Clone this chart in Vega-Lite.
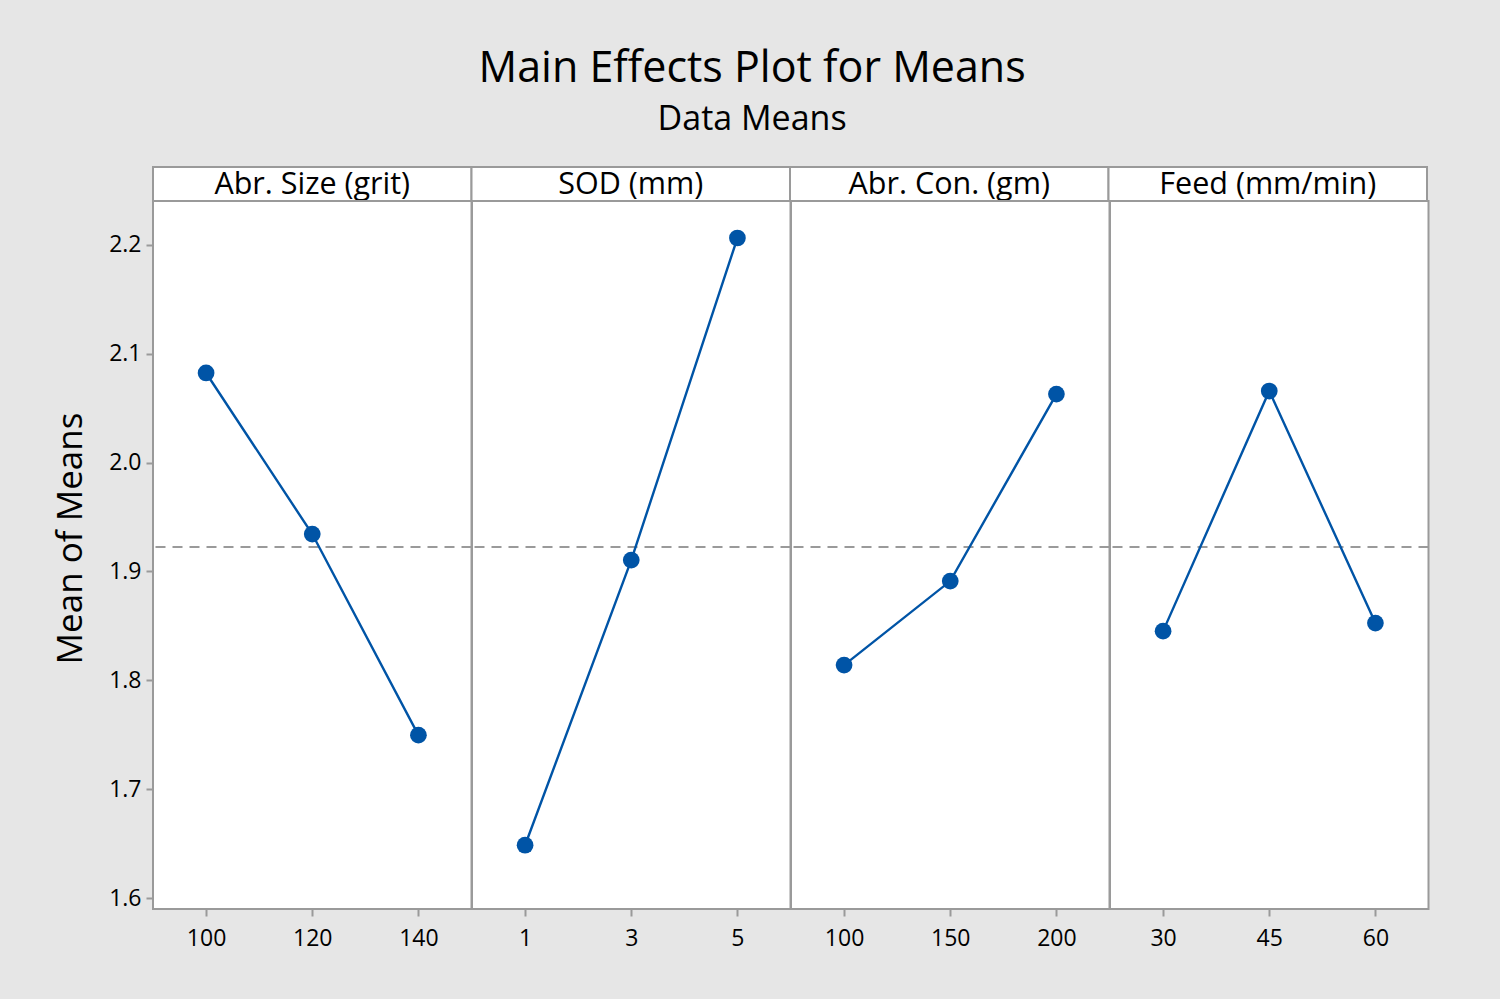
{
  "$schema": "https://vega.github.io/schema/vega-lite/v6.json",
  "background": "#e6e6e6",
  "padding": {"left": 53, "top": 48, "right": 71, "bottom": 50},
  "title": {
    "text": "Main Effects Plot for Means",
    "subtitle": "Data Means",
    "fontSize": 43,
    "fontWeight": "normal",
    "subtitleFontSize": 34,
    "subtitleColor": "black",
    "subtitlePadding": 12,
    "color": "black",
    "anchor": "middle",
    "dx": 10,
    "offset": 28
  },
  "vconcat": [
    {
      "data": {"values": [
        {"factor": "Abr. Size (grit)"},
        {"factor": "SOD (mm)"},
        {"factor": "Abr. Con. (gm)"},
        {"factor": "Feed (mm/min)"}
      ]},
      "width": 1274,
      "height": 34,
      "encoding": {
        "x": {"field": "factor", "type": "nominal", "sort": ["Abr. Size (grit)", "SOD (mm)", "Abr. Con. (gm)", "Feed (mm/min)"],
              "scale": {"paddingInner": 0, "paddingOuter": 0}, "axis": null}
      },
      "layer": [
        {"mark": {"type": "bar", "fill": "white", "stroke": "#9a9a9a", "strokeWidth": 2}},
        {"mark": {"type": "text", "fontSize": 30.5, "color": "black", "dy": 1}, "encoding": {"text": {"field": "factor", "type": "nominal"}}}
      ]
    },
    {
      "data": {"values": [
        {"factor": "Abr. Size (grit)", "level": 100, "mean": 2.0824, "grand_mean": 1.9224},
        {"factor": "Abr. Size (grit)", "level": 120, "mean": 1.9344, "grand_mean": 1.9224},
        {"factor": "Abr. Size (grit)", "level": 140, "mean": 1.7496, "grand_mean": 1.9224},
        {"factor": "SOD (mm)", "level": 1, "mean": 1.6485, "grand_mean": 1.9224},
        {"factor": "SOD (mm)", "level": 3, "mean": 1.9105, "grand_mean": 1.9224},
        {"factor": "SOD (mm)", "level": 5, "mean": 2.2064, "grand_mean": 1.9224},
        {"factor": "Abr. Con. (gm)", "level": 100, "mean": 1.814, "grand_mean": 1.9224},
        {"factor": "Abr. Con. (gm)", "level": 150, "mean": 1.8912, "grand_mean": 1.9224},
        {"factor": "Abr. Con. (gm)", "level": 200, "mean": 2.063, "grand_mean": 1.9224},
        {"factor": "Feed (mm/min)", "level": 30, "mean": 1.8452, "grand_mean": 1.9224},
        {"factor": "Feed (mm/min)", "level": 45, "mean": 2.0658, "grand_mean": 1.9224},
        {"factor": "Feed (mm/min)", "level": 60, "mean": 1.8526, "grand_mean": 1.9224}
      ]},
      "facet": {"column": {"field": "factor", "type": "nominal", "sort": ["Abr. Size (grit)", "SOD (mm)", "Abr. Con. (gm)", "Feed (mm/min)"], "header": null}},
      "spacing": 0,
      "bounds": "flush",
      "resolve": {"scale": {"x": "independent"}},
      "spec": {
        "width": 318.5,
        "height": 708,
        "layer": [
          {
            "mark": {"type": "rule", "color": "#9a9a9a", "strokeWidth": 2, "strokeDash": [10, 7]},
            "encoding": {
              "y": {"aggregate": "mean", "field": "grand_mean", "type": "quantitative", "title": "Mean of Means"}
            }
          },
          {
            "mark": {"type": "line", "color": "#0054a6", "strokeWidth": 2.4, "point": {"filled": true, "size": 280, "color": "#0054a6", "opacity": 1}},
            "encoding": {
              "x": {"field": "level", "type": "ordinal", "title": null,
                    "axis": {"labelAngle": 0, "domain": false, "tickColor": "#9a9a9a", "tickSize": 7, "tickWidth": 2, "labelPadding": 11, "labelFontSize": 23, "labelColor": "black"}},
              "y": {"field": "mean", "type": "quantitative", "title": "Mean of Means",
                    "scale": {"domain": [1.5899, 2.2404], "nice": false, "zero": false},
                    "axis": {"values": [1.6, 1.7, 1.8, 1.9, 2.0, 2.1, 2.2], "format": ".1f", "grid": false, "domain": false, "tickColor": "#9a9a9a", "tickSize": 7, "tickWidth": 2, "labelPadding": 5, "labelFontSize": 23, "labelColor": "black", "titleFontSize": 35, "titleFontWeight": "normal", "titleColor": "black", "titlePadding": 20, "titleY": 337}}
            }
          }
        ]
      }
    }
  ],
  "spacing": 0,
  "bounds": "flush",
  "config": {
    "font": "Open Sans",
    "view": {"fill": "white", "stroke": "#9a9a9a", "strokeWidth": 2}
  }
}
